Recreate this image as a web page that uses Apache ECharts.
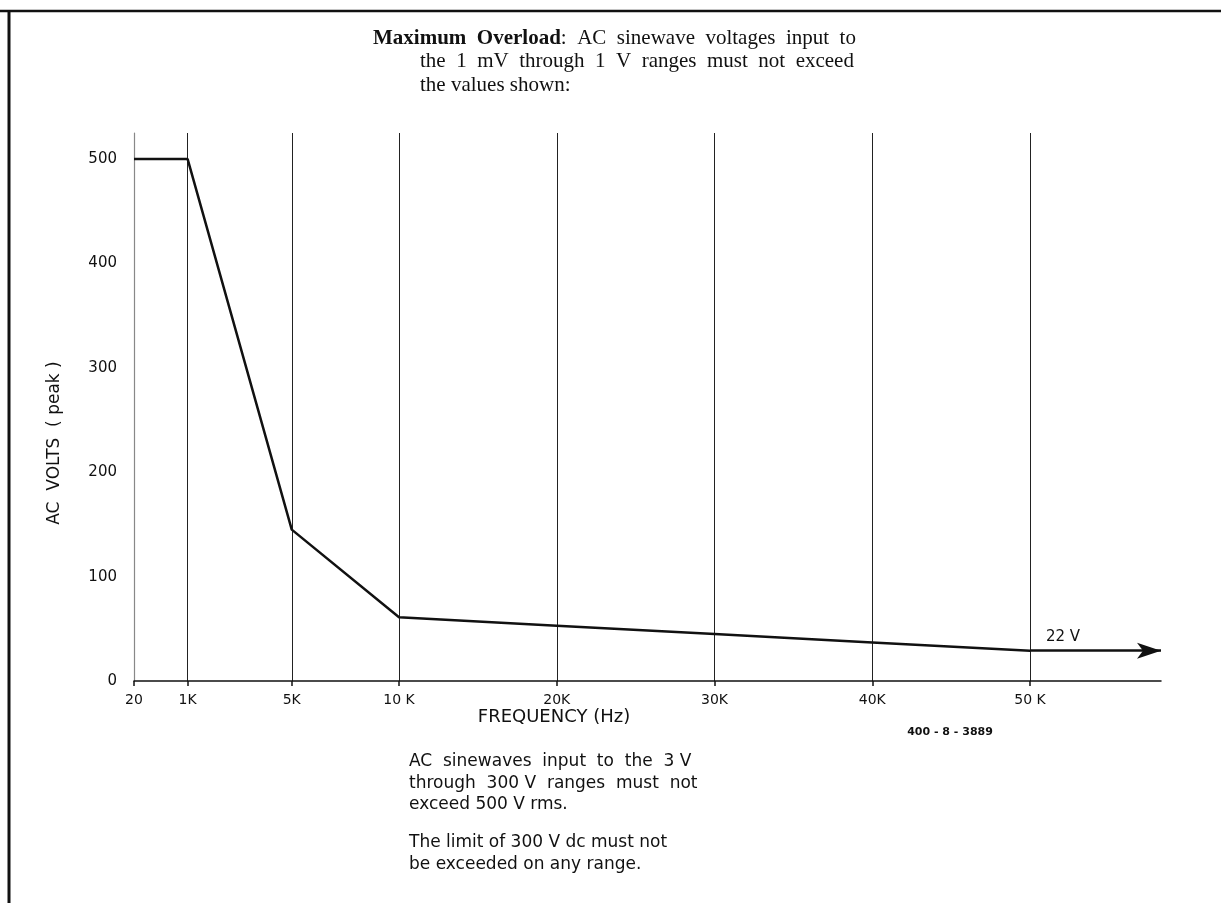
<!DOCTYPE html>
<html>
<head>
<meta charset="utf-8">
<script src="https://cdn.jsdelivr.net/npm/echarts@6/dist/echarts.min.js"></script>
<style>html,body{margin:0;padding:0;background:#fff;}#c{width:1221px;height:903px;}</style>
</head>
<body>
<div id="c"></div>
<script>
// Frequency ticks (Hz) and their labels
const tickFreqs = [20, 1000, 5000, 10000, 20000, 30000, 40000, 50000];
const tickLabels = ['20', '1K', '5K', '10 K', '20K', '30K', '40K', '50 K'];
// Non-linear frequency scale of the original graph: axis units for each tick frequency
const tickScale = [0, 0.34, 1, 1.68, 2.68, 3.68, 4.68, 5.68];
const axisEndScale = 6.51;
// Maximum overload curve (AC volts peak)
const curveFreqs = [20, 1000, 5000, 10000, 20000, 30000, 40000, 50000];
const curveVolts = [500, 500, 145, 61, 53, 45, 37, 29];

function freqToScale(f) {
  for (let i = 0; i < tickFreqs.length - 1; i++) {
    if (f <= tickFreqs[i + 1]) {
      const t = (f - tickFreqs[i]) / (tickFreqs[i + 1] - tickFreqs[i]);
      return tickScale[i] + t * (tickScale[i + 1] - tickScale[i]);
    }
  }
  const n = tickFreqs.length - 1;
  const slope = (tickScale[n] - tickScale[n - 1]) / (tickFreqs[n] - tickFreqs[n - 1]);
  return tickScale[n] + (f - tickFreqs[n]) * slope;
}

const chart = echarts.init(document.getElementById('c'));
const lineData = curveFreqs.map((f, i) => [freqToScale(f), curveVolts[i]]);
const lastPt = lineData[lineData.length - 1];

const serif = '"Liberation Serif", "Times New Roman", serif';
const sans = '"DejaVu Sans", sans-serif';

chart.setOption({
  backgroundColor: '#fff',
  animation: false,
  grid: { left: 134, right: 60, top: 133, bottom: 222, containLabel: false },
  xAxis: {
    type: 'value', min: 0, max: axisEndScale,
    axisLine: { show: true, lineStyle: { color: '#111', width: 1.5 } },
    axisTick: { show: true, length: 5, inside: false, customValues: tickFreqs.map(freqToScale), lineStyle: { color: '#111', width: 1.5 } },
    axisLabel: {
      customValues: tickFreqs.map(freqToScale),
      formatter: function (v) {
        const i = tickScale.findIndex(s => Math.abs(s - v) < 1e-6);
        return i >= 0 ? tickLabels[i] : '';
      },
      color: '#111', fontFamily: sans, fontSize: 14, margin: 12
    },
    splitLine: { show: true, lineStyle: { color: '#222', width: 1 } }
  },
  yAxis: {
    type: 'value', min: 0, max: 525, interval: 100,
    axisLine: { show: true, lineStyle: { color: '#888', width: 1.2 } },
    axisTick: { show: false },
    axisLabel: { color: '#111', fontFamily: sans, fontSize: 15, margin: 17, showMaxLabel: false },
    splitLine: { show: false }
  },
  series: [{
    type: 'line',
    data: lineData,
    symbol: 'none',
    lineStyle: { color: '#111', width: 2.5 },
    markLine: {
      silent: true,
      symbol: ['none', 'arrow'],
      symbolSize: [12, 24],
      label: { show: false },
      lineStyle: { color: '#111', width: 2.5, type: 'solid' },
      data: [[{ coord: [lastPt[0], lastPt[1]] }, { coord: [axisEndScale, lastPt[1]] }]]
    }
  }],
  graphic: [
    { type: 'line', shape: { x1: 0, y1: 11, x2: 1221, y2: 11 }, style: { stroke: '#111', lineWidth: 2.5 } },
    { type: 'line', shape: { x1: 9, y1: 10, x2: 9, y2: 903 }, style: { stroke: '#111', lineWidth: 3 } },
    {
      type: 'text', left: 373, top: 28,
      style: {
        text: '{b|Maximum  Overload}{r|:  AC  sinewave  voltages  input  to}',
        rich: {
          b: { fontFamily: serif, fontSize: 21, fontWeight: 'bold', fill: '#111' },
          r: { fontFamily: serif, fontSize: 21, fill: '#111' }
        }
      }
    },
    { type: 'text', left: 420, top: 51, style: { text: 'the  1  mV  through  1  V  ranges  must  not  exceed', font: '21px ' + serif, fill: '#111' } },
    { type: 'text', left: 420, top: 75, style: { text: 'the values shown:', font: '21px ' + serif, fill: '#111' } },
    { type: 'text', x: 55, y: 443, rotation: Math.PI / 2, style: { text: 'AC  VOLTS  ( peak )', font: '17px ' + sans, fill: '#111', align: 'center', verticalAlign: 'middle' } },
    { type: 'text', x: 554, y: 717, style: { text: 'FREQUENCY (Hz)', font: '18px ' + sans, fill: '#111', align: 'center', verticalAlign: 'middle' } },
    { type: 'text', x: 1046, y: 637, style: { text: '22 V', font: '15px ' + sans, fill: '#111', align: 'left', verticalAlign: 'middle' } },
    { type: 'text', x: 950, y: 732, style: { text: '400 - 8 - 3889', font: 'bold 11px ' + sans, fill: '#111', align: 'center', verticalAlign: 'middle' } },
    { type: 'text', left: 409, top: 751, style: { text: 'AC  sinewaves  input  to  the  3 V\nthrough  300 V  ranges  must  not\nexceed 500 V rms.', font: '17px ' + sans, fill: '#111', lineHeight: 21.5 } },
    { type: 'text', left: 409, top: 832, style: { text: 'The limit of 300 V dc must not\nbe exceeded on any range.', font: '17px ' + sans, fill: '#111', lineHeight: 21.5 } }
  ]
});
</script>
</body>
</html>
